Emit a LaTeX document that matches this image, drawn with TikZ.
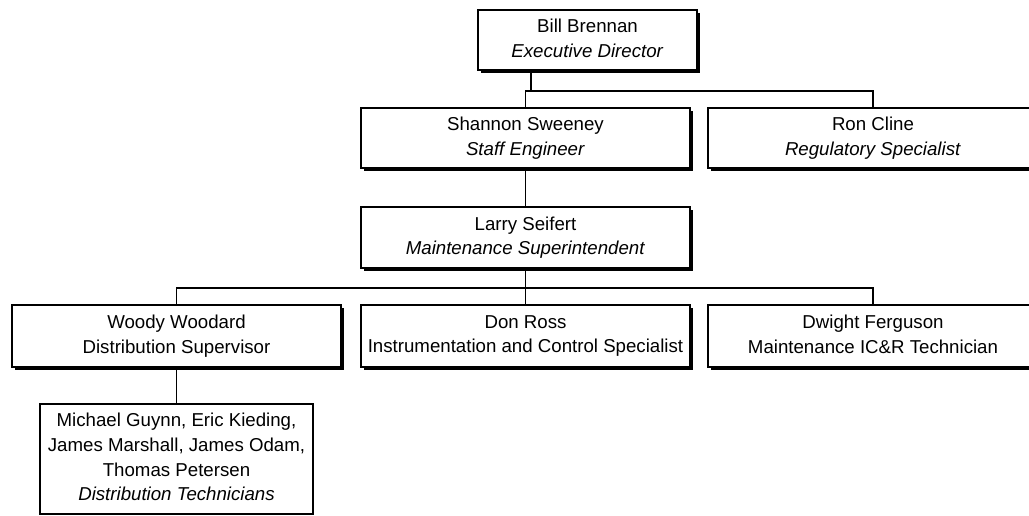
\documentclass[tikz,border=0pt]{standalone}
\usepackage{fontspec}
\setmainfont{Liberation Sans}
\usetikzlibrary{shadows}
\newcommand\topstrut{\rule{0pt}{16pt}}
\newcommand\botstrut{\rule[-3pt]{0pt}{3pt}}
\tikzset{
  box/.style 2 args={draw=black, line width=0.8pt, fill=white, rectangle,
    minimum width=#1*0.75pt, minimum height=#2*0.75pt, inner sep=0pt,
    align=center, font=\fontsize{14}{18.4}\selectfont,
    execute at begin node=\topstrut, execute at end node=\botstrut},
  shad/.style={general shadow={fill=black, shadow xshift=2.25pt, shadow yshift=-2.25pt}},
  conn/.style={draw=black, line width=0.8pt}
}
\begin{document}
\begin{tikzpicture}[x=0.75pt,y=-0.75pt]
\useasboundingbox (0,0) rectangle (1029,515);
\clip (0,0) rectangle (1029,515);
\node[box={219}{60}, shad] (bill) at (587.5,40) {Bill Brennan\\\textit{Executive Director}};
\node[box={329}{60}, shad] (shannon) at (525.5,138) {Shannon Sweeney\\\textit{Staff Engineer}};
\node[box={330}{60}, shad] (ron) at (873,138) {Ron Cline\\\textit{Regulatory Specialist}};
\node[box={329}{61}, shad] (larry) at (525.5,237.5) {Larry Seifert\\\textit{Maintenance Superintendent}};
\node[box={329}{62}, shad] (woody) at (176.5,336) {Woody Woodard\\Distribution Supervisor};
\node[box={329}{62}, shad] (don) at (525.5,336) {Don Ross\\Instrumentation and Control Specialist};
\node[box={330}{62}, shad] (dwight) at (873,336) {Dwight Ferguson\\Maintenance IC\&R Technician};
\node[box={273}{110}] (tech) at (176.5,459) {Michael Guynn, Eric Kieding,\\James Marshall, James Odam,\\Thomas Petersen\\\textit{Distribution Technicians}};
\coordinate (j1) at (531,91);
\coordinate (j2) at (525.5,288);
\draw[conn] (j1 |- bill.south) -- (j1);
\draw[conn] (shannon.north) -- (shannon.north |- j1) -- (ron.north |- j1) -- (ron.north);
\draw[conn] (shannon.south) -- (larry.north);
\draw[conn] (larry.south) -- (j2);
\draw[conn] (woody.north) -- (woody.north |- j2) -- (dwight.north |- j2) -- (dwight.north);
\draw[conn] (j2) -- (don.north);
\draw[conn] (woody.south) -- (tech.north);
\end{tikzpicture}
\end{document}
